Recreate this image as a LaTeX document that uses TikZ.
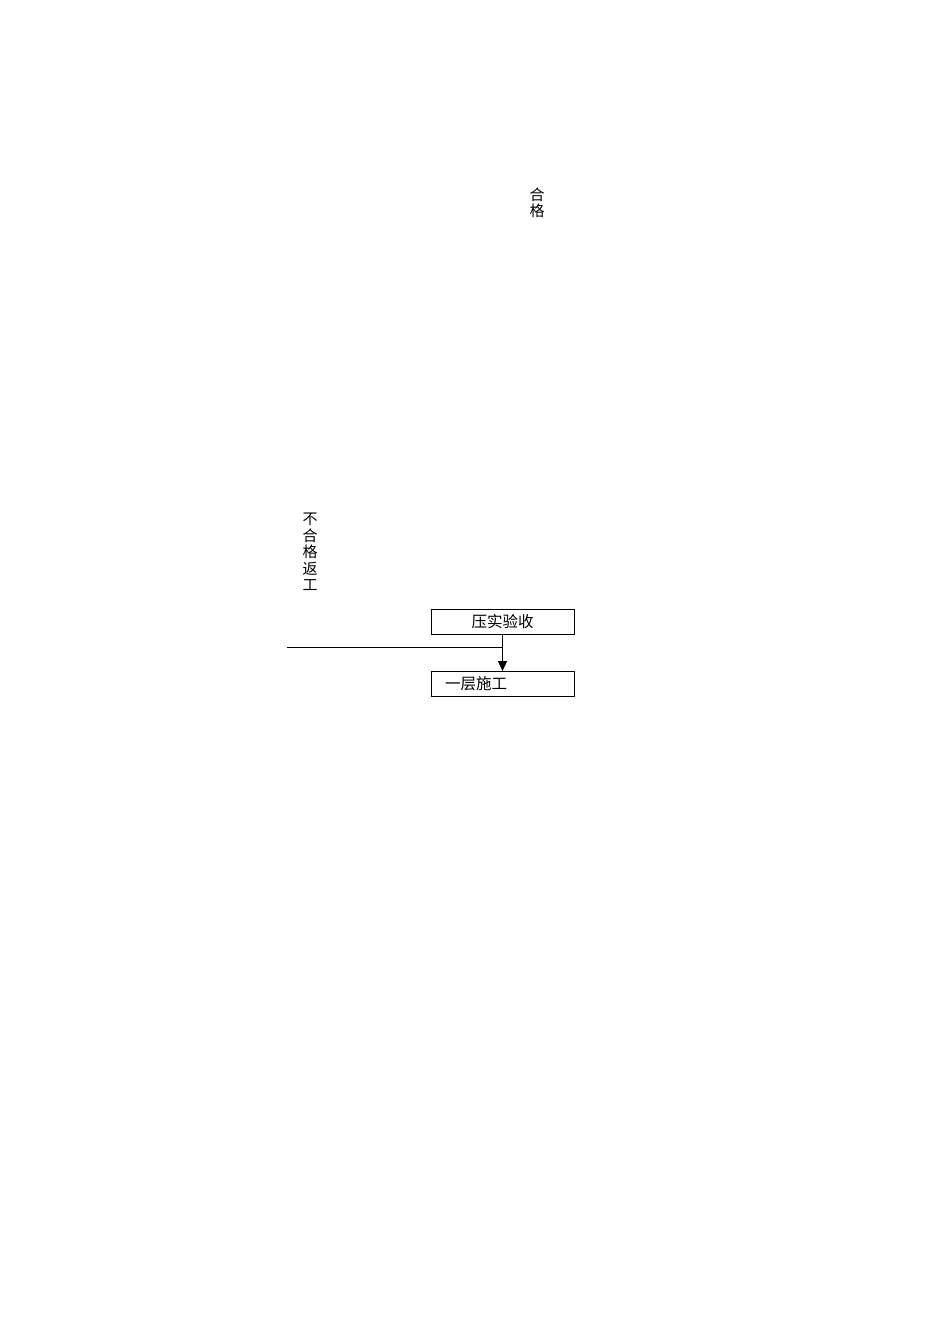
\documentclass[tikz,border=0pt]{standalone}
\usepackage{fontspec}
\newfontfamily\cjk{Noto Sans CJK SC}
\usetikzlibrary{arrows.meta}
\begin{document}
\begin{tikzpicture}[x=1pt,y=-1pt,
  box/.style={draw,line width=0.9pt,minimum width=143pt,minimum height=25pt,inner sep=0pt,font=\cjk\fontsize{15.5}{17}\selectfont},
  vlabel/.style={align=center,inner sep=0pt,font=\cjk\fontsize{15}{16.5}\selectfont},
  conn/.style={line width=0.9pt}]
\useasboundingbox (0,0) rectangle (950,1344);
\node[box] (ys) at (502.5,621.5) {压实验收};
\node[box,text width=115pt,align=left] (yc) at (502.5,684) {一层施工};
\node[vlabel] (hg) at (537,203) {合\\格};
\node[vlabel] (bhg) at (310,552) {不\\合\\格\\返\\工};
\coordinate (lend) at (287,647);
\draw[conn,-{Triangle[length=10pt,width=9pt]}] (ys.south) -- (yc.north);
\draw[conn] (lend) -- (ys.south |- lend);
\end{tikzpicture}
\end{document}
